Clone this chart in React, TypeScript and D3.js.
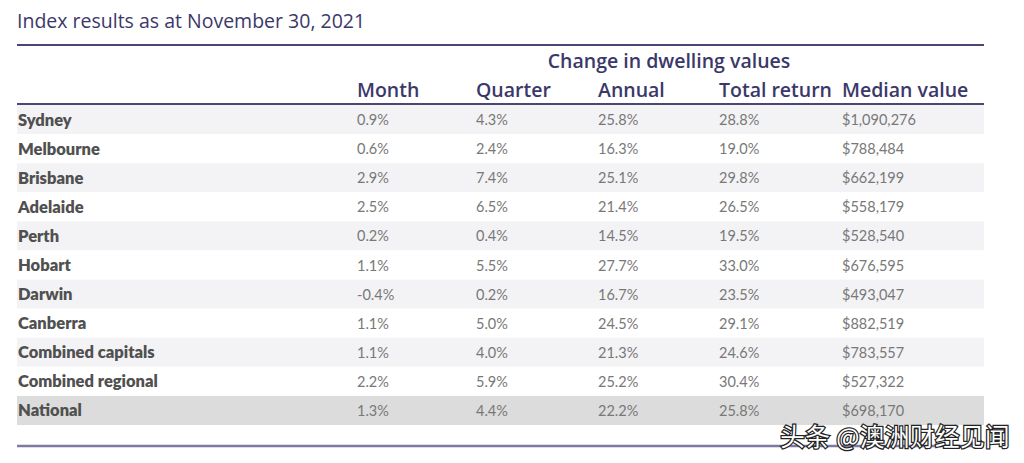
import React from "react";
import * as d3 from "d3";

const title = "Index results as at November 30, 2021";
const groupHeader = "Change in dwelling values";
const columns = ["Month", "Quarter", "Annual", "Total return", "Median value"];
const regions = [
  "Sydney",
  "Melbourne",
  "Brisbane",
  "Adelaide",
  "Perth",
  "Hobart",
  "Darwin",
  "Canberra",
  "Combined capitals",
  "Combined regional",
  "National",
];
const month = ["0.9%", "0.6%", "2.9%", "2.5%", "0.2%", "1.1%", "-0.4%", "1.1%", "1.1%", "2.2%", "1.3%"];
const quarter = ["4.3%", "2.4%", "7.4%", "6.5%", "0.4%", "5.5%", "0.2%", "5.0%", "4.0%", "5.9%", "4.4%"];
const annual = ["25.8%", "16.3%", "25.1%", "21.4%", "14.5%", "27.7%", "16.7%", "24.5%", "21.3%", "25.2%", "22.2%"];
const totalReturn = ["28.8%", "19.0%", "29.8%", "26.5%", "19.5%", "33.0%", "23.5%", "29.1%", "24.6%", "30.4%", "25.8%"];
const medianValue = [
  "$1,090,276",
  "$788,484",
  "$662,199",
  "$558,179",
  "$528,540",
  "$676,595",
  "$493,047",
  "$882,519",
  "$783,557",
  "$527,322",
  "$698,170",
];
const watermark = "头条 @澳洲财经见闻";

export default function App() {
  const W = 1024;
  const H = 463;
  const left = 17;
  const right = 984;
  const y = d3.scaleBand<string>().domain(regions).range([105, 425]).padding(0);
  const colX = d3
    .scaleOrdinal<string, number>()
    .domain(columns)
    .range([357, 476, 598, 719, 842]);
  const series = [month, quarter, annual, totalReturn, medianValue];
  const headColor = "#3b3869";
  const headFont = "'Open Sans', sans-serif";

  return (
    <svg
      width={W}
      height={H}
      style={{ position: "absolute", left: 0, top: 0, background: "#fff" }}
    >
      <text x={left} y={28} fontFamily={headFont} fontSize={19.5} fontWeight={500} fill={headColor}>
        {title}
      </text>
      <line x1={left} x2={right} y1={45} y2={45} stroke="#4a4676" strokeWidth={2} />
      <text
        x={669}
        y={68}
        textAnchor="middle"
        fontFamily={headFont}
        fontSize={19.5}
        fontWeight={600}
        fill={headColor}
      >
        {groupHeader}
      </text>
      {columns.map((c) => (
        <text
          key={c}
          x={colX(c)}
          y={97}
          fontFamily={headFont}
          fontSize={19.5}
          fontWeight={600}
          fill={headColor}
        >
          {c}
        </text>
      ))}
      <line x1={left} x2={right} y1={104} y2={104} stroke="#4a4676" strokeWidth={2} />
      {regions.map((r, i) => {
        const y0 = y(r)!;
        const isNat = r === "National";
        const fill = isNat ? "#dcdcdc" : i % 2 === 0 ? "#f3f3f5" : "#ffffff";
        return (
          <g key={r}>
            <rect x={left} y={y0} width={right - left} height={y.bandwidth()} fill={fill} />
            <text
              x={left + 1}
              y={y0 + y.bandwidth() / 2}
              dominantBaseline="central"
              fontFamily="Lato, sans-serif"
              fontWeight={800}
              fontSize={16.5}
              fill="#505050"
            >
              {r}
            </text>
            {series.map((s, j) => (
              <text
                key={j}
                x={colX(columns[j])}
                y={y0 + y.bandwidth() / 2}
                dominantBaseline="central"
                fontFamily="Lato, sans-serif"
                fontSize={14.5}
                fill="#787878"
              >
                {s[i]}
              </text>
            ))}
          </g>
        );
      })}
      <line x1={left} x2={right} y1={446} y2={446} stroke="#7d79a2" strokeWidth={2.5} />
      <text
        x={1010}
        y={446}
        textAnchor="end"
        fontFamily="'Noto Sans CJK SC', sans-serif"
        fontSize={24.5}
        letterSpacing={0.5}
        fill="#ffffff"
        stroke="#222"
        strokeWidth={2.5}
        paintOrder="stroke"
      >
        {watermark}
      </text>
    </svg>
  );
}
